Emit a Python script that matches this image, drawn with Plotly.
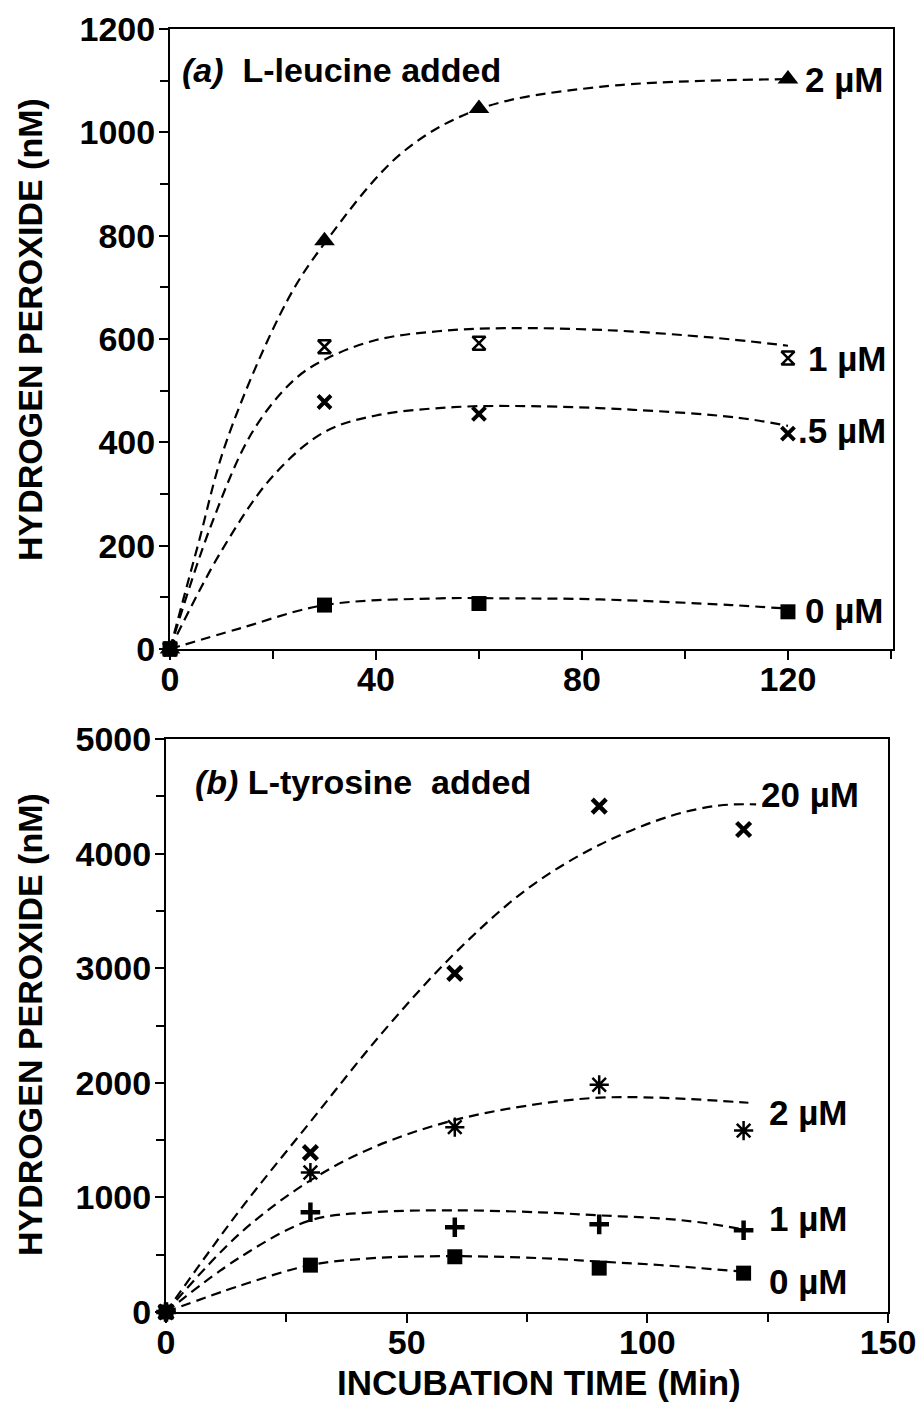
import plotly.graph_objects as go

# ---------------- Panel (a): L-leucine ----------------
a_time = [0, 30, 60, 120]
a_2uM = [0, 790, 1046, 1103]
a_1uM = [0, 585, 592, 563]
a_05uM = [0, 478, 455, 417]
a_0uM = [0, 85, 88, 72]

# fitted (dashed) curves
a_fit2_t = [0, 5.4, 11, 22.7, 30, 45, 60, 83.5, 120]
a_fit2_v = [0, 200, 403, 673, 785, 960, 1045, 1088, 1103]
a_fit1_t = [0, 8, 16, 24, 30, 40, 52, 65, 85, 105, 120]
a_fit1_v = [0, 240, 420, 520, 560, 598, 615, 621, 617, 603, 587]
a_fit05_t = [0, 10, 20, 30, 40, 55, 70, 90, 110, 120]
a_fit05_v = [0, 190, 335, 420, 452, 468, 470, 463, 448, 432]
a_fit0_t = [0, 13.6, 30, 52.4, 65.4, 83.5, 109, 120]
a_fit0_v = [0, 40, 85, 98, 98, 96, 85, 78]

# ---------------- Panel (b): L-tyrosine ----------------
b_time = [0, 30, 60, 90, 120]
b_20uM = [0, 1390, 2955, 4415, 4210]
b_2uM = [0, 1217, 1613, 1983, 1583]
b_1uM = [0, 870, 740, 765, 713]
b_0uM = [0, 409, 482, 383, 339]

b_fit20_t = [0, 15, 30, 45, 60, 75, 90, 105, 115, 122.6]
b_fit20_v = [0, 870, 1660, 2440, 3130, 3690, 4075, 4330, 4420, 4430]
b_fit2_t = [0, 15.4, 30, 43, 59.5, 77.6, 90, 102.5, 121]
b_fit2_v = [0, 687, 1148, 1435, 1670, 1817, 1870, 1870, 1826]
b_fit1_t = [0, 15.4, 30, 43, 59.5, 77.6, 90, 102.5, 110.8, 121]
b_fit1_v = [0, 478, 800, 870, 887, 870, 843, 817, 783, 713]
b_fit0_t = [0, 15.4, 30, 43, 59.5, 77.6, 90, 102.5, 121]
b_fit0_v = [0, 230, 409, 470, 487, 470, 440, 410, 348]

FONT = "Liberation Sans, Arial, Helvetica, sans-serif"
BLACK = "black"
DASH = "10px,6px"

fig = go.Figure()


def curve(t, v, xa, ya):
    fig.add_trace(go.Scatter(x=t, y=v, mode="lines", xaxis=xa, yaxis=ya,
                             line=dict(color=BLACK, width=2.2, dash=DASH, shape="spline", smoothing=1.0),
                             hoverinfo="skip", showlegend=False, cliponaxis=False))


def pts(t, v, xa, ya, symbol, size, lw=0):
    fig.add_trace(go.Scatter(x=t, y=v, mode="markers", xaxis=xa, yaxis=ya,
                             marker=dict(symbol=symbol, size=size, color=BLACK,
                                         line=dict(color=BLACK, width=lw)),
                             showlegend=False, cliponaxis=False))


# panel a
curve(a_fit2_t, a_fit2_v, "x", "y")
curve(a_fit1_t, a_fit1_v, "x", "y")
curve(a_fit05_t, a_fit05_v, "x", "y")
curve(a_fit0_t, a_fit0_v, "x", "y")
pts(a_time, a_2uM, "x", "y", "triangle-up", 18)
pts(a_time, a_1uM, "x", "y", "hourglass-open", 13, 2.5)
pts(a_time, a_05uM, "x", "y", "x-thin-open", 13, 4)
pts(a_time, a_0uM, "x", "y", "square", 15)

# panel b
curve(b_fit20_t, b_fit20_v, "x2", "y2")
curve(b_fit2_t, b_fit2_v, "x2", "y2")
curve(b_fit1_t, b_fit1_v, "x2", "y2")
curve(b_fit0_t, b_fit0_v, "x2", "y2")
pts(b_time, b_20uM, "x2", "y2", "x-thin-open", 14, 4.5)
pts(b_time, b_2uM, "x2", "y2", "asterisk-open", 16, 2.5)
pts(b_time, b_1uM, "x2", "y2", "cross-thin-open", 14, 4.5)
pts(b_time, b_0uM, "x2", "y2", "square", 15)

# the page adds an 8 px body margin; positions below are in window pixels
OFF = 8
W, H = 924 - OFF, 1406 - OFF


def px(xw):
    return (xw - OFF) / W


def py(yw):
    return 1 - (yw - OFF) / H


TICKF = dict(family=FONT, size=34, color=BLACK, weight="bold")


def axis(domain, rng, dtick, minor_dtick, anchor, standoff):
    return dict(domain=domain, range=rng, anchor=anchor, dtick=dtick, tick0=0,
                showgrid=False, zeroline=False, showline=True, linecolor=BLACK, linewidth=2,
                mirror=True, ticks="outside", ticklen=9, tickwidth=2, tickcolor=BLACK,
                tickfont=TICKF, automargin=False, fixedrange=True, ticklabelstandoff=standoff,
                minor=dict(dtick=minor_dtick, tick0=0, ticks="outside", ticklen=8,
                           tickwidth=2, tickcolor=BLACK, showgrid=False))


fig.update_layout(
    width=W, height=H, margin=dict(l=0, r=0, t=0, b=0),
    paper_bgcolor="white", plot_bgcolor="white",
    font=dict(family=FONT, color=BLACK),
    xaxis=axis([px(170), px(893)], [0, 140.4], 40, 20, "y", -10),
    yaxis=axis([py(649), py(29)], [0, 1200], 200, 100, "x", -3),
    xaxis2=axis([px(166), px(888)], [0, 150], 50, 25, "y2", -10),
    yaxis2=axis([py(1312), py(739)], [0, 5000], 1000, 500, "x2", -3),
)

ann = []


def label(x, y, xr, yr, text, size):
    ann.append(dict(x=x, y=y, xref=xr, yref=yr, text=text, xanchor="left", yanchor="middle",
                    showarrow=False, font=dict(family=FONT, size=size, color=BLACK, weight="bold")))


# series labels, panel a
label(123.0, 1103, "x", "y", "2 µM", 35)
label(123.5, 563, "x", "y", "1 µM", 35)
label(121.5, 422, "x", "y", ".5 µM", 35)
label(123.0, 75, "x", "y", "0 µM", 35)
# series labels, panel b
label(123.2, 4513, "x2", "y2", "20 µM", 35)
label(124.8, 1739, "x2", "y2", "2 µM", 35)
label(124.8, 817, "x2", "y2", "1 µM", 35)
label(124.8, 270, "x2", "y2", "0 µM", 35)
# panel titles
label(2, 1121, "x", "y", "<i>(a)</i>  L-leucine added", 34)
label(5.6, 4626, "x2", "y2", "<i>(b)</i> L-tyrosine  added", 34)

# axis titles
TF = dict(family=FONT, size=34, color=BLACK, weight="bold")
ann.append(dict(x=px(30), y=py(330), xref="paper", yref="paper", text="HYDROGEN PEROXIDE (nM)", textangle=-90,
                xanchor="center", yanchor="middle", showarrow=False, font=TF))
ann.append(dict(x=px(30), y=py(1025), xref="paper", yref="paper", text="HYDROGEN PEROXIDE (nM)", textangle=-90,
                xanchor="center", yanchor="middle", showarrow=False, font=TF))
ann.append(dict(x=px(539), y=py(1382), xref="paper", yref="paper", text="INCUBATION TIME (Min)",
                xanchor="center", yanchor="middle", showarrow=False,
                font=dict(family=FONT, size=35, color=BLACK, weight="bold")))
fig.update_layout(annotations=ann)

fig.write_html("out.html")
